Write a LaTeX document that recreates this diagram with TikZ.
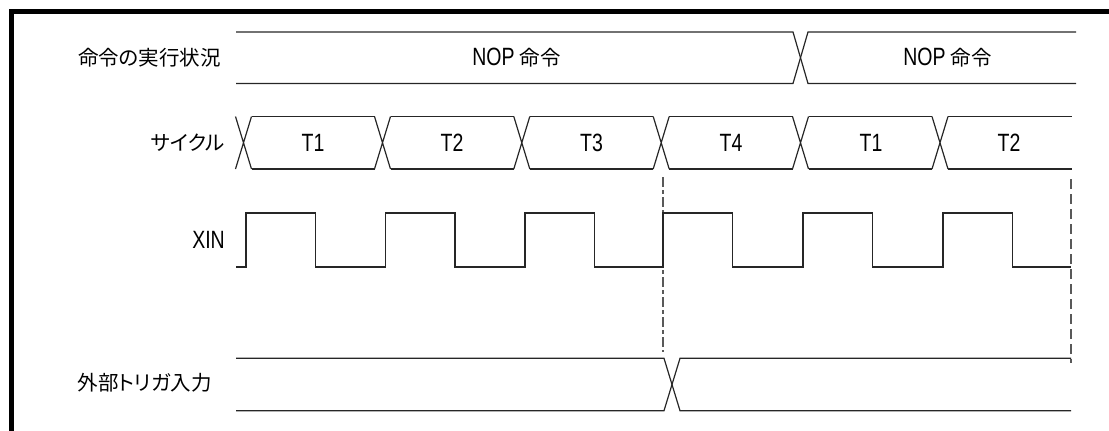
\documentclass[tikz,border=0pt]{standalone}
\usepackage{fontspec}
\newfontfamily\jp[RawFeature=+palt]{Noto Sans CJK JP}
\newfontfamily\lat[FakeStretch=0.78]{Liberation Sans}
\begin{document}
\begin{tikzpicture}[x=1pt,y=-1pt,
  wave/.style={line width=1.2pt, draw=black!85},
  guide/.style={line width=1.3pt, draw=black!65},
  rowlabel/.style={anchor=east, inner sep=0pt, font=\jp\fontsize{20.5}{24}\selectfont},
  tlabel/.style={inner sep=0pt, font=\lat\fontsize{25}{28}\selectfont},
  noplabel/.style={inner sep=0pt}]
\useasboundingbox (0,0) rectangle (1109,431);
% frame (cropped)
\fill[black] (8.5,9) rectangle (13.5,431);
\fill[black] (8.5,9) rectangle (1109,14);

% labels
\node[rowlabel] (l1) at (221,58) {命令の実行状況};
\node[rowlabel] (l2) at (225,143) {サイクル};
\node[rowlabel, font=\lat\fontsize{25}{28}\selectfont] (l3) at (225,240) {XIN};
\node[rowlabel] (l4) at (212,383) {外部トリガ入力};

% row 1: instruction state
\draw[wave] (236,32) -- (793,32) -- (808,83.5) -- (1076,83.5);
\draw[wave] (236,83.5) -- (793,83.5) -- (808,32) -- (1076,32);
\node[noplabel] (nop1) at (516.5,58) {{\lat\fontsize{25}{28}\selectfont NOP}\hspace{5pt}{\jp\fontsize{20.5}{24}\selectfont 命令}};
\node[noplabel] (nop2) at (947.5,58) {{\lat\fontsize{25}{28}\selectfont NOP}\hspace{5pt}{\jp\fontsize{20.5}{24}\selectfont 命令}};

% row 2: cycles
\foreach \c in {243.5,382.5,521.8,661.2,800.5,940}{
  \draw[wave] (\c-8,116.5) -- (\c+8,169) (\c-8,169) -- (\c+8,116.5);
}
\foreach \a/\b in {243.5/382.5,382.5/521.8,521.8/661.2,661.2/800.5,800.5/940}{
  \draw[wave] (\a+8,116.5) -- (\b-8,116.5) (\a+8,169) -- (\b-8,169);
}
\draw[wave] (948,116.5) -- (1072,116.5) (948,169) -- (1072,169);
\node[tlabel] (t1) at (313,143) {T1};
\node[tlabel] (t2) at (452,143) {T2};
\node[tlabel] (t3) at (591.5,143) {T3};
\node[tlabel] (t4) at (731,143) {T4};
\node[tlabel] (t5) at (871,143) {T1};
\node[tlabel] (t6) at (1009,143) {T2};

% guides
\draw[guide, dash pattern=on 10pt off 3pt on 4pt off 3pt] (663,177) -- (663,352);
\draw[guide, dash pattern=on 10pt off 5pt] (1071,179) -- (1071,363);

% row 3: XIN
\draw[wave] (236,267) -- (246,267) -- (246,213) -- (315.5,213) -- (315.5,267)
  -- (385.5,267) -- (385.5,213) -- (455,213) -- (455,267)
  -- (525,267) -- (525,213) -- (594.5,213) -- (594.5,267)
  -- (663,267) -- (663,213) -- (732.5,213) -- (732.5,267)
  -- (803,267) -- (803,213) -- (872.5,213) -- (872.5,267)
  -- (943,267) -- (943,213) -- (1012.5,213) -- (1012.5,267) -- (1071,267);

% row 4: external trigger
\draw[wave] (236,358.3) -- (664,358.3) -- (680,410.7) -- (1071,410.7);
\draw[wave] (236,410.7) -- (664,410.7) -- (680,358.3) -- (1071,358.3);
\end{tikzpicture}
\end{document}
